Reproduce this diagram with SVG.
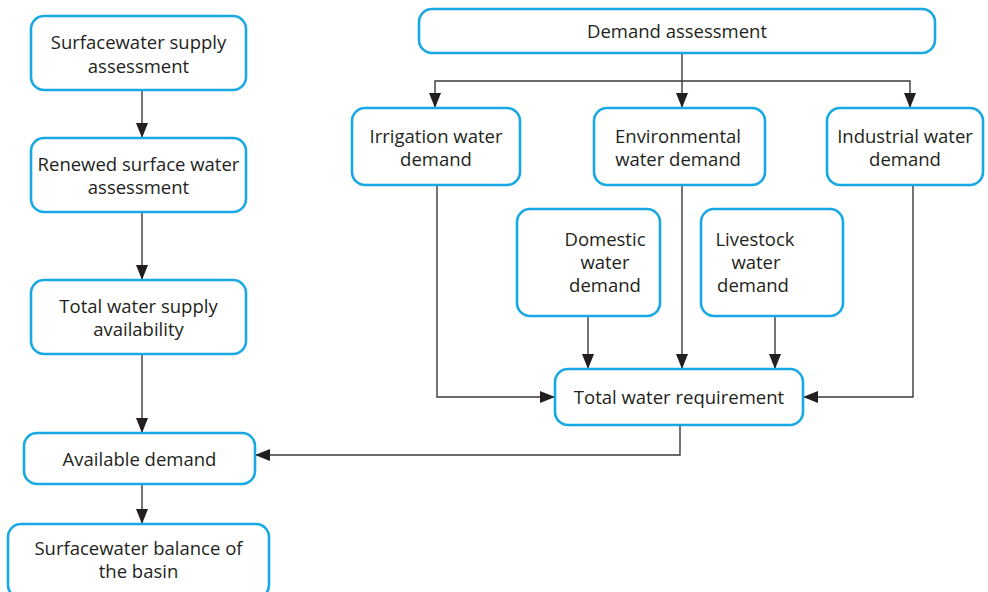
<svg xmlns="http://www.w3.org/2000/svg" width="988" height="592" viewBox="0 0 988 592">
  <style>
    .box { fill: #ffffff; stroke: #18a8e4; stroke-width: 2.6; }
    .lbl { font-family: "Open Sans", "Liberation Sans", sans-serif; font-size: 18.5px; fill: #231f20; text-anchor: middle; }
    .wire { fill: none; stroke: #3a3a3a; stroke-width: 1.4; }
  </style>
  <defs>
    <marker id="arr" viewBox="0 0 15 12" refX="15" refY="6" markerWidth="15" markerHeight="12" markerUnits="userSpaceOnUse" orient="auto">
      <path d="M0,0 L15,6 L0,12 z" fill="#231f20"/>
    </marker>
  </defs>

  <rect width="988" height="592" fill="#ffffff"/>

  <!-- connectors -->
  <g id="connectors" class="wire">
    <path d="M142,90 V138" marker-end="url(#arr)"/>
    <path d="M142,212 V280" marker-end="url(#arr)"/>
    <path d="M142,354 V433" marker-end="url(#arr)"/>
    <path d="M142,484 V524" marker-end="url(#arr)"/>
    <path d="M682,53 V108" marker-end="url(#arr)"/>
    <path d="M682,81 H435 V108" marker-end="url(#arr)"/>
    <path d="M682,81 H910 V108" marker-end="url(#arr)"/>
    <path d="M437,185 V397 H555" marker-end="url(#arr)"/>
    <path d="M913,185 V397 H803" marker-end="url(#arr)"/>
    <path d="M682,185 V369" marker-end="url(#arr)"/>
    <path d="M588,316 V369" marker-end="url(#arr)"/>
    <path d="M775,316 V369" marker-end="url(#arr)"/>
    <path d="M680,425 V455 H255" marker-end="url(#arr)"/>
  </g>

  <g id="surface-supply">
    <rect class="box" x="31" y="16" width="215" height="74" rx="13"/>
    <text class="lbl"><tspan x="138.5" y="49">Surfacewater supply</tspan><tspan x="138.5" y="73">assessment</tspan></text>
  </g>
  <g id="renewed-surface">
    <rect class="box" x="31" y="138" width="215" height="74" rx="13"/>
    <text class="lbl"><tspan x="138.5" y="171">Renewed surface water</tspan><tspan x="138.5" y="194">assessment</tspan></text>
  </g>
  <g id="total-supply">
    <rect class="box" x="31" y="280" width="215" height="74" rx="13"/>
    <text class="lbl"><tspan x="138.5" y="313">Total water supply</tspan><tspan x="138.5" y="336">availability</tspan></text>
  </g>
  <g id="available-demand">
    <rect class="box" x="24" y="433" width="231" height="51" rx="13"/>
    <text class="lbl" x="139.5" y="466">Available demand</text>
  </g>
  <g id="surface-balance">
    <rect class="box" x="8" y="524" width="261" height="74" rx="13"/>
    <text class="lbl"><tspan x="138.5" y="555">Surfacewater balance of</tspan><tspan x="138.5" y="578">the basin</tspan></text>
  </g>

  <g id="demand-assessment">
    <rect class="box" x="419" y="9" width="516" height="44" rx="13"/>
    <text class="lbl" x="677" y="38">Demand assessment</text>
  </g>
  <g id="irrigation">
    <rect class="box" x="352" y="108" width="168" height="77" rx="13"/>
    <text class="lbl"><tspan x="436" y="142.5">Irrigation water</tspan><tspan x="436" y="165.5">demand</tspan></text>
  </g>
  <g id="environmental">
    <rect class="box" x="594" y="108" width="171" height="77" rx="13"/>
    <text class="lbl"><tspan x="678" y="142.5">Environmental</tspan><tspan x="678" y="165.5">water demand</tspan></text>
  </g>
  <g id="industrial">
    <rect class="box" x="827" y="108" width="156" height="77" rx="13"/>
    <text class="lbl"><tspan x="905" y="142.5">Industrial water</tspan><tspan x="905" y="165.5">demand</tspan></text>
  </g>
  <g id="domestic">
    <rect class="box" x="517" y="209" width="143" height="107" rx="13"/>
    <text class="lbl"><tspan x="605" y="246">Domestic</tspan><tspan x="605" y="269">water</tspan><tspan x="605" y="292">demand</tspan></text>
  </g>
  <g id="livestock">
    <rect class="box" x="701" y="209" width="142" height="107" rx="13"/>
    <text class="lbl"><tspan x="755" y="246">Livestock</tspan><tspan x="756" y="269">water</tspan><tspan x="753" y="292">demand</tspan></text>
  </g>
  <g id="total-requirement">
    <rect class="box" x="555" y="369" width="248" height="56" rx="13"/>
    <text class="lbl" x="679" y="404">Total water requirement</text>
  </g>
</svg>
